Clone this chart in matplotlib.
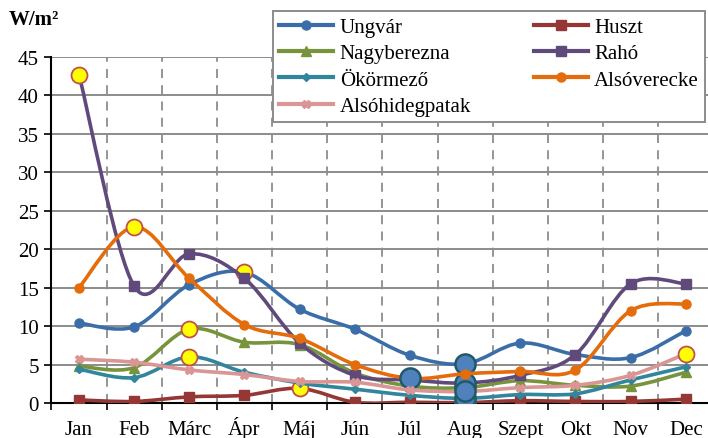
import numpy as np
import matplotlib.pyplot as plt
from matplotlib.path import Path
from matplotlib.patches import PathPatch
from matplotlib.lines import Line2D

plt.rcParams['font.family'] = ['Liberation Serif', 'DejaVu Serif']

months = ['Jan', 'Feb', 'Márc', 'Ápr', 'Máj', 'Jún', 'Júl', 'Aug', 'Szept', 'Okt', 'Nov', 'Dec']

ungvar = [10.4, 9.9, 15.4, 17.0, 12.2, 9.6, 6.2, 5.1, 7.8, 6.3, 5.9, 9.4]
huszt = [0.4, 0.2, 0.8, 1.0, 1.9, 0.1, 0.1, 0.05, 0.3, 0.2, 0.2, 0.5]
nagyberezna = [4.8, 4.6, 9.6, 7.9, 7.6, 3.9, 2.2, 2.0, 2.9, 2.3, 2.2, 4.0]
raho = [42.7, 15.2, 19.4, 16.2, 7.8, 3.6, 3.0, 2.6, 3.6, 6.3, 15.5, 15.5]
okormezo = [4.4, 3.3, 6.0, 4.0, 2.6, 1.8, 1.0, 0.6, 1.1, 1.2, 3.0, 4.7]
alsoverecke = [15.0, 22.9, 16.2, 10.2, 8.4, 5.0, 3.2, 3.8, 4.1, 4.3, 12.0, 12.9]
alsohidegpatak = [5.7, 5.3, 4.3, 3.7, 2.8, 2.7, 1.7, 1.5, 2.0, 2.3, 3.6, 6.4]

# drawing order = excel series order
series = [
    ('Ungvár', ungvar, '#3B6EA8', 'o', 6.5),
    ('Huszt', huszt, '#953735', 's', 6.5),
    ('Nagyberezna', nagyberezna, '#77933C', '^', 6.5),
    ('Rahó', raho, '#604A7B', 's', 6.5),
    ('Ökörmező', okormezo, '#31859C', 'D', 4.5),
    ('Alsóverecke', alsoverecke, '#E46C0A', 'o', 6.5),
    ('Alsóhidegpatak', alsohidegpatak, '#D99694', 'X', 6),
]


def smooth_path(xs, ys):
    # excel style smoothed line: catmull-rom as cubic bezier segments
    p = np.column_stack([xs, ys]).astype(float)
    ext = np.vstack([p[0], p, p[-1]])
    verts = [p[0]]
    codes = [Path.MOVETO]
    for i in range(len(p) - 1):
        c1 = ext[i + 1] + (ext[i + 2] - ext[i]) / 6
        c2 = ext[i + 2] - (ext[i + 3] - ext[i + 1]) / 6
        verts += [c1, c2, ext[i + 2]]
        codes += [Path.CURVE4] * 3
    return Path(verts, codes)


fig = plt.figure(figsize=(7.08, 4.39), dpi=100)
ax = fig.add_axes([51.4 / 708, 35 / 439, 662 / 708, 346 / 439])

x = np.arange(len(months))
for k, (name, vals, col, mk, ms) in enumerate(series):
    z = 3 + k
    ax.add_patch(PathPatch(smooth_path(x, vals), fill=False, edgecolor=col,
                           lw=2.6, zorder=z, capstyle='round', joinstyle='round'))
    ax.plot(x, vals, ls='none', marker=mk, ms=ms, color=col, mec=col, zorder=z + 0.1)
    i_max = int(np.argmax(vals))
    i_min = int(np.argmin(vals))
    ax.plot(x[i_max], vals[i_max], ls='none', marker='o', ms=11.5, mfc='#FFFF00',
            mec='#C0504D', mew=1.3, zorder=z + 0.2)
    ax.plot(x[i_min], vals[i_min], ls='none', marker='o', ms=14.5, mfc='#4F81BD',
            mec='#215968', mew=1.8, zorder=z + 0.2)

ax.set_xlim(-0.5, 11.5)
ax.set_ylim(0, 45)
ax.set_yticks(range(0, 46, 5))
ax.set_xticks(np.arange(-0.5, 12, 1))
ax.set_xticklabels([])
ax.set_xticks(x, minor=True)
ax.set_xticklabels(months, minor=True)
for lbl in ax.get_xticklabels(minor=True):
    lbl.set_verticalalignment('baseline')
ax.tick_params(axis='x', which='minor', length=0, pad=22, labelsize=15)
ax.tick_params(axis='x', which='major', length=5, width=1.2, direction='out')
ax.tick_params(axis='y', length=5, width=1.2, direction='out', labelsize=15, pad=4)

ax.grid(axis='y', color='#8C8C8C', lw=1.4, zorder=0)
ax.grid(axis='x', which='major', color='#8C8C8C', lw=1.3, ls=(0, (5, 4)), zorder=0)
ax.set_axisbelow(True)
for s in ['top', 'right']:
    ax.spines[s].set_visible(False)
for s in ['left', 'bottom']:
    ax.spines[s].set_linewidth(1.5)
    ax.spines[s].set_zorder(2.5)

fig.text(9 / 708, 1 - 20 / 439, 'W/m²', fontsize=15, fontweight='bold', va='center')

handles = {}
for name, vals, col, mk, ms in series:
    handles[name] = Line2D([], [], color=col, lw=3, marker=mk, ms=ms, mec=col)
order = ['Ungvár', 'Nagyberezna', 'Ökörmező', 'Alsóhidegpatak', 'Huszt', 'Rahó', 'Alsóverecke']
leg = fig.legend([handles[n] for n in order], order, ncol=2, loc='upper left',
                 bbox_to_anchor=(273 / 708, 1 - 12 / 439), fontsize=15,
                 frameon=True, fancybox=False, edgecolor='#8C8C8C', framealpha=1,
                 handlelength=2.6, handletextpad=0.3, labelspacing=0.33,
                 columnspacing=3.0, borderpad=0.3, borderaxespad=0)
leg.get_frame().set_linewidth(1.4)
leg.set_zorder(20)

fig.savefig('out.png', dpi=100)
